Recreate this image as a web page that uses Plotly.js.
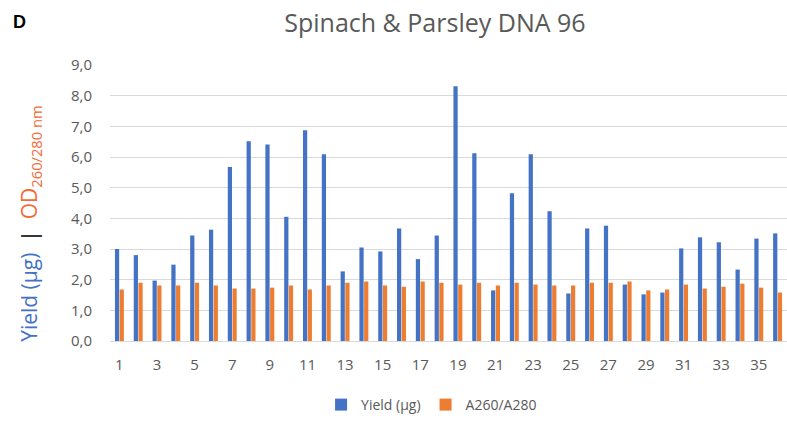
<!DOCTYPE html>
<html>
<head>
<meta charset="utf-8">
<script src="https://cdn.plot.ly/plotly-3.0.1.min.js"></script>
<style>body{margin:0;padding:0;background:#fff;} #chart{width:787px;height:421px;}</style>
</head>
<body>
<div id="chart"></div>
<script>
const samples = [1,2,3,4,5,6,7,8,9,10,11,12,13,14,15,16,17,18,19,20,21,22,23,24,25,26,27,28,29,30,31,32,33,34,35,36];
const yieldUg = [3.0,2.8,1.97,2.49,3.44,3.63,5.67,6.51,6.41,4.05,6.87,6.09,2.27,3.05,2.92,3.67,2.67,3.44,8.31,6.12,1.65,4.82,6.09,4.23,1.55,3.67,3.76,1.84,1.52,1.58,3.02,3.38,3.22,2.33,3.34,3.51];
const ratio = [1.68,1.90,1.81,1.81,1.90,1.81,1.71,1.71,1.74,1.81,1.68,1.81,1.90,1.94,1.81,1.77,1.94,1.90,1.84,1.90,1.81,1.90,1.84,1.81,1.81,1.90,1.90,1.94,1.65,1.68,1.84,1.71,1.77,1.87,1.74,1.58];
const xTickVals = [1,3,5,7,9,11,13,15,17,19,21,23,25,27,29,31,33,35];
const yTickVals = [0,1,2,3,4,5,6,7,8,9];
const yTickText = ["0,0","1,0","2,0","3,0","4,0","5,0","6,0","7,0","8,0","9,0"];
const seriesNames = ["Yield (µg)","A260/A280"];

const FONT = "'Open Sans', Lato, sans-serif";
const data = [
  {type:"bar", x:samples, y:yieldUg, name:seriesNames[0], marker:{color:"#4472C4"}},
  {type:"bar", x:samples, y:ratio, name:seriesNames[1], marker:{color:"#ED7D31"}}
];
const layout = {
  width:787, height:421,
  margin:{l:110, r:0, t:65, b:76},
  paper_bgcolor:"#fff", plot_bgcolor:"#fff",
  font:{family:FONT, color:"#595959", size:14},
  title:{text:"Spinach &amp; Parsley DNA 96", x:0.48, xanchor:"center", y:0.945, yanchor:"middle", xref:"paper", font:{size:25, color:"#595959", family:FONT}},
  barmode:"group", bargap:0.5, bargroupgap:0.1,
  xaxis:{range:[0.5,36.5], tickvals:xTickVals, ticktext:xTickVals.map(String), showgrid:false, showline:true, linecolor:"#D9D9D9", linewidth:1, ticks:"outside", ticklen:10, tickcolor:"rgba(0,0,0,0)", zeroline:false, tickfont:{size:15, color:"#595959"}, fixedrange:true},
  yaxis:{range:[0,9], tickvals:yTickVals, ticktext:yTickText, showgrid:true, gridcolor:"#D9D9D9", gridwidth:1, zeroline:true, zerolinecolor:"#D9D9D9", showline:false, ticks:"outside", ticklen:14, tickcolor:"rgba(0,0,0,0)", tickfont:{size:15, color:"#595959"}},
  showlegend:true,
  legend:{orientation:"h", x:0.475, xanchor:"center", y:-0.232, yanchor:"middle", font:{size:14, color:"#595959"}, itemwidth:30, traceorder:"normal"},
  annotations:[
    {text:"<b>D</b>", xref:"paper", yref:"paper", x:-0.146, y:1.154, xanchor:"left", yanchor:"middle", showarrow:false, font:{size:18, color:"#000", family:"'Liberation Sans', Arial, sans-serif"}},
    {text:"<span style='color:#4472C4'>Yield (µg)</span><span style='color:#000'>  |  </span><span style='color:#F26A35'>OD<sub>260/280 nm</sub></span>", xref:"paper", yref:"paper", x:-0.118, y:0.425, xanchor:"center", yanchor:"middle", textangle:-90, showarrow:false, font:{size:21, family:FONT}}
  ]
};
Plotly.newPlot("chart", data, layout, {displayModeBar:false, staticPlot:true});
</script>
</body>
</html>
